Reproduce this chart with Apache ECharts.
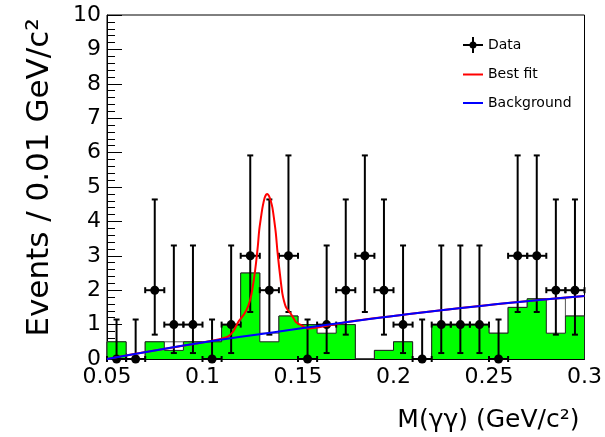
<!DOCTYPE html>
<html>
<head>
<meta charset="utf-8">
<script src="https://cdn.jsdelivr.net/npm/echarts@6/dist/echarts.min.js"></script>
<style>html,body{margin:0;padding:0;background:#fff}#c{width:605px;height:437px}</style>
</head>
<body>
<div id="c"></div>
<script>
// Bin centres (GeV/c^2), 0.01 wide bins
const binCenters = [0.055,0.065,0.075,0.085,0.095,0.105,0.115,0.125,0.135,0.145,0.155,0.165,0.175,0.185,0.195,0.205,0.215,0.225,0.235,0.245,0.255,0.265,0.275,0.285,0.295];
// Observed events and Poisson 68% bounds
const dataCounts = [0,0,2,1,1,0,1,3,2,3,0,1,2,3,2,1,0,1,1,1,0,3,3,2,2];
const dataLow  = [0,0,0.708,0.173,0.173,0,0.173,1.367,0.708,1.367,0,0.173,0.708,1.367,0.708,0.173,0,0.173,0.173,0.173,0,1.367,1.367,0.708,0.708];
const dataHigh = [1.148,1.148,4.638,3.300,3.300,1.148,3.300,5.918,4.638,5.918,1.148,3.300,4.638,5.918,4.638,3.300,1.148,3.300,3.300,3.300,1.148,5.918,5.918,4.638,4.638];
// Green MC histogram and outlined (white) histogram
const greenHist = [0.5,0,0.5,0.25,0.5,0.5,1.0,2.5,0.5,1.25,1.0,0.75,1.0,0,0.25,0.5,0,1.0,1.0,1.0,0.75,1.5,1.75,0.75,1.25];
const whiteHist = [0.5,0,0.5,0.5,0.5,0.5,1.0,2.5,0.75,1.25,1.0,1.0,1.0,0,0.25,0.5,0,1.0,1.0,1.0,0.75,1.5,1.75,1.75,1.25];
// Best-fit curve samples
const fitX = [0.05,0.075,0.10,0.105,0.11,0.1135,0.116,0.119,0.122,0.124,0.1255,0.127,0.128,0.129,0.1297,0.1307,0.1315,0.1325,0.1333,0.134,0.1348,0.1357,0.1366,0.1375,0.1384,0.1392,0.1401,0.141,0.1418,0.1427,0.1436,0.145,0.1462,0.1475,0.1488,0.1500,0.1514,0.1535,0.155,0.175,0.20,0.225,0.25,0.275,0.30];
const fitY = [0,0.25,0.48,0.53,0.59,0.66,0.80,1.10,1.32,1.55,1.85,2.35,2.78,3.30,3.75,4.15,4.43,4.68,4.78,4.80,4.74,4.60,4.40,4.05,3.65,3.15,2.68,2.25,1.91,1.68,1.52,1.40,1.32,1.20,1.08,1.03,0.99,0.92,0.89,1.07,1.25,1.42,1.57,1.71,1.83];
// Background curve samples
const bkgX = [0.05,0.075,0.10,0.125,0.15,0.175,0.20,0.225,0.25,0.275,0.30];
const bkgY = [0,0.25,0.48,0.68,0.88,1.07,1.25,1.42,1.57,1.71,1.83];
const xTicks = [0.05,0.1,0.15,0.2,0.25,0.3];

const binWidth = binCenters[1]-binCenters[0];
function stepData(h){
  const pts = [[binCenters[0]-binWidth/2, 0]];
  h.forEach((v,i)=>pts.push([binCenters[i]-binWidth/2, v]));
  const last = binCenters[binCenters.length-1]+binWidth/2;
  pts.push([last, h[h.length-1]]);
  pts.push([last, 0]);
  return pts;
}
const font = '"DejaVu Sans", sans-serif';
const chart = echarts.init(document.getElementById('c'), null, {renderer:'canvas'});
const dataIcon = 'path://M0,7h20v2h-20z M9,0h2v16h-2z M6.5,8a3.5,3.5 0 1,1 7,0a3.5,3.5 0 1,1 -7,0z';
const lineIcon = 'path://M0,0h20v2h-20z';
chart.setOption({
  animation:false,
  backgroundColor:'#fff',
  grid:{left:107,right:18,top:15,bottom:78,show:true,borderColor:'#000',borderWidth:1,backgroundColor:'transparent'},
  legend:{
    orient:'vertical', left:463, top:37, padding:0, itemWidth:20, itemHeight:16, itemGap:14.5,
    textStyle:{fontFamily:font,fontSize:14,color:'#000'},
    data:[{name:'Data',icon:dataIcon},{name:'Best fit',icon:lineIcon},{name:'Background',icon:lineIcon}]
  },
  xAxis:{
    type:'value', min:0.05, max:0.3, interval:0.05,
    name:'M(γγ) (GeV/c²)', nameLocation:'end', nameGap:-5,
    nameTextStyle:{fontFamily:font,fontSize:25,color:'#000',align:'right',verticalAlign:'top',padding:[49,0,0,0]},
    axisLine:{onZero:false,lineStyle:{color:'#000',width:1}},
    axisTick:{inside:true,length:11,lineStyle:{color:'#000'}},
    minorTick:{show:true,splitNumber:5,length:6,lineStyle:{color:'#000'}},
    splitLine:{show:false},
    axisLabel:{fontFamily:font,fontSize:22,color:'#000',margin:7,
      formatter:v=>{const t=xTicks.find(a=>Math.abs(a-v)<1e-9);return t===undefined?'':String(t);}}
  },
  yAxis:{
    type:'value', min:0, max:10, interval:1,
    name:'Events / 0.01 GeV/c²', nameLocation:'middle', nameGap:52, nameRotate:90,
    nameTextStyle:{fontFamily:font,fontSize:31,color:'#000',padding:[0,0,0,19]},
    axisLine:{lineStyle:{color:'#000',width:1}},
    axisTick:{inside:true,length:15,lineStyle:{color:'#000'}},
    minorTick:{show:true,splitNumber:5,length:8,lineStyle:{color:'#000'}},
    splitLine:{show:false},
    axisLabel:{fontFamily:font,fontSize:22,color:'#000',margin:6}
  },
  series:[
    {name:'whiteHist',type:'line',step:'end',symbol:'none',silent:true,z:1,
     data:stepData(whiteHist),lineStyle:{color:'#555',width:1},areaStyle:{color:'#fff',opacity:1}},
    {name:'greenHist',type:'line',step:'end',symbol:'none',silent:true,z:2,
     data:stepData(greenHist),lineStyle:{color:'#222',width:1},areaStyle:{color:'#00ff00',opacity:1}},
    {name:'Data',type:'custom',z:5,
     data:binCenters.map((x,i)=>[x,dataCounts[i],dataLow[i],dataHigh[i]]),
     encode:{x:0,y:1},
     itemStyle:{color:'#000'},
     renderItem:function(params,api){
       const x=api.value(0),y=api.value(1),lo=api.value(2),hi=api.value(3);
       const p=api.coord([x,y]),pl=api.coord([x,lo]),ph=api.coord([x,hi]);
       const l=api.coord([x-binWidth/2,y]),r=api.coord([x+binWidth/2,y]);
       const st={stroke:'#000',lineWidth:2};
       const cap=3;
       return {type:'group',children:[
         {type:'line',shape:{x1:p[0],y1:pl[1],x2:p[0],y2:ph[1]},style:st},
         {type:'line',shape:{x1:p[0]-cap,y1:pl[1],x2:p[0]+cap,y2:pl[1]},style:st},
         {type:'line',shape:{x1:p[0]-cap,y1:ph[1],x2:p[0]+cap,y2:ph[1]},style:st},
         {type:'line',shape:{x1:l[0],y1:p[1],x2:r[0],y2:p[1]},style:st},
         {type:'line',shape:{x1:l[0],y1:p[1]-cap,x2:l[0],y2:p[1]+cap},style:st},
         {type:'line',shape:{x1:r[0],y1:p[1]-cap,x2:r[0],y2:p[1]+cap},style:st},
         {type:'circle',shape:{cx:p[0],cy:p[1],r:4.5},style:{fill:'#000'}}
       ]};
     }},
    {name:'Best fit',type:'line',symbol:'none',smooth:0.3,z:6,
     data:fitX.map((x,i)=>[x,fitY[i]]),lineStyle:{color:'#ff0000',width:2},itemStyle:{color:'#ff0000'}},
    {name:'Background',type:'line',symbol:'none',smooth:true,z:7,
     data:bkgX.map((x,i)=>[x,bkgY[i]]),lineStyle:{color:'#0000ff',width:2},itemStyle:{color:'#0000ff'}}
  ]
});
</script>
</body>
</html>
